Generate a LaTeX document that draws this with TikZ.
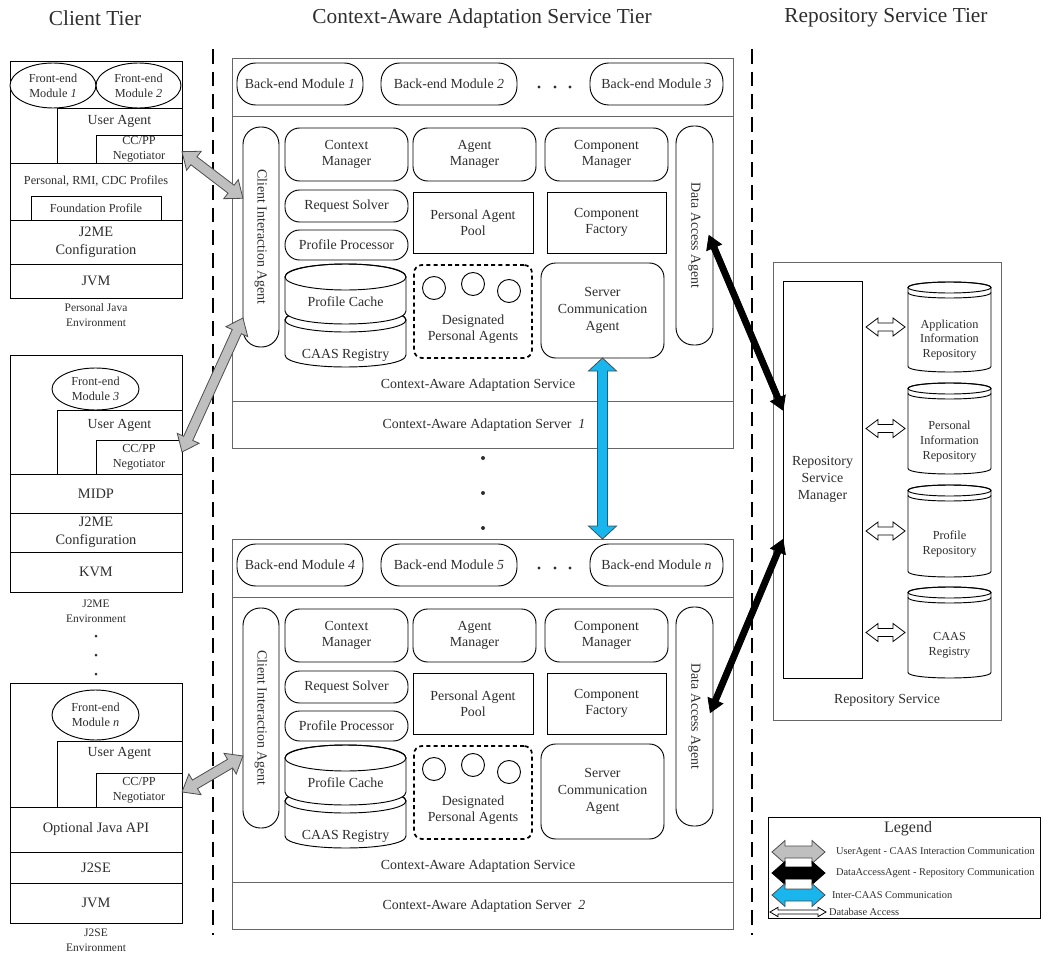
\documentclass[tikz,border=0pt]{standalone}
\usepackage{fontspec}
\setmainfont{Liberation Serif}
\usetikzlibrary{shapes.geometric,calc}
\definecolor{caasblue}{RGB}{24,182,236}
\definecolor{ink}{gray}{0.18}
\definecolor{arrowgray}{gray}{0.75}

% box from (x1,y1) to (x2,y2) in pixel units: [style]{name}{x1}{y1}{x2}{y2}{text}
\newcommand\bnode[7][]{%
  \node[tbox,#1,minimum width={(#5-#3)*0.75pt},minimum height={(#6-#4)*0.75pt}]
    (#2) at ({(#3+#5)/2},{(#4+#6)/2}) {#7};}

% double-headed block arrow: {style}{from}{to}{shaft half}{head half}{head length}
\newcommand\fatarrow[6]{%
  \draw[#1] let \p1=#2, \p2=#3, \n1={atan2(\y2-\y1,\x2-\x1)}, \n2={veclen(\x2-\x1,\y2-\y1)} in
    [shift={(\p1)}, rotate=\n1]
    (0pt,0pt) -- (#6pt,#5pt) -- (#6pt,#4pt) -- ({\n2-#6pt},#4pt) -- ({\n2-#6pt},#5pt)
    -- (\n2,0pt) -- ({\n2-#6pt},-#5pt) -- ({\n2-#6pt},-#4pt) -- (#6pt,-#4pt) -- (#6pt,-#5pt) -- cycle;}

% cylinder inside a server: {x1}{x2}{top centre}{bottom centre}{ry}
\newcommand\servcyl[5]{%
  \filldraw[fill=white] (#1,#3) -- (#1,#4) .. controls (#1,{#4+1.333*#5}) and (#2,{#4+1.333*#5}) .. (#2,#4)
    -- (#2,#3) .. controls (#2,{#3-1.333*#5}) and (#1,{#3-1.333*#5}) .. cycle;
  \draw ({(#1+#2)/2},#3) ellipse [x radius={(#2-#1)/2}, y radius=#5];}

% repository database: {name}{top}{bottom}{text}
\newcommand\dbcyl[4]{%
  \pgfmathsetmacro\cyT{#2+5.5}\pgfmathsetmacro\cyB{#3-5.5}%
  \filldraw[fill=white] (908,\cyT) -- (908,\cyB) .. controls (908,{\cyB+7.33}) and (991,{\cyB+7.33}) .. (991,\cyB)
    -- (991,\cyT) .. controls (991,{\cyT-7.33}) and (908,{\cyT-7.33}) .. cycle;
  \draw (949.5,\cyT) ellipse [x radius=41.5, y radius=5.5];
  \draw (908,{\cyT+5}) .. controls (908,{\cyT+12.33}) and (991,{\cyT+12.33}) .. (991,{\cyT+5});
  \node[inner sep=0pt,outer sep=0pt,minimum width=62.25pt,minimum height={(#3-#2)*0.75pt}]
    (#1) at (949.5,{(#2+#3)/2}) {};
  \node[ttext,fs9] (#1t) at (949.5,{(#2+#3)/2+13}) {#4};}

% one Context-Aware Adaptation Server: {prefix}{y offset}{bm a}{bm b}{bm c}{number}
\newcommand\caasserver[6]{%
\begin{scope}[shift={(0,#2)}]
  \bnode[tframe]{#1frame}{232}{58}{733}{448}{}
  \draw[black!60] (232,116) -- (733,116) (232,401) -- (733,401);
  \bnode[fs10,rounded corners=14pt]{#1bma}{237}{63}{363}{105}{Back-end Module \textit{#3}}
  \bnode[fs10,rounded corners=14pt]{#1bmb}{381}{63}{517}{105}{Back-end Module \textit{#4}}
  \fill[ink] (539,87) circle [radius=1.6] (555,87) circle [radius=1.6] (570,87) circle [radius=1.6];
  \bnode[fs10,rounded corners=14pt]{#1bmc}{590}{63}{723}{105}{Back-end Module \textit{#5}}
  \bnode[rounded corners=13pt]{#1cia}{243}{127}{279}{347}{}
  \node[ttext,fs10,rotate=-90] (#1ciat) at (#1cia) {Client Interaction Agent};
  \bnode[rounded corners=13pt]{#1daa}{676}{126}{713}{345}{}
  \node[ttext,fs10,rotate=-90] (#1daat) at (#1daa) {Data Access Agent};
  \bnode[fs10,rounded corners=11pt]{#1cm}{285}{128}{408}{181}{Context\\Manager}
  \bnode[fs10,rounded corners=11pt]{#1am}{413}{128}{536}{181}{Agent\\Manager}
  \bnode[fs10,rounded corners=11pt]{#1com}{545}{128}{668}{181}{Component\\Manager}
  \bnode[fs10,rounded corners=11pt]{#1rs}{285}{190}{408}{222}{Request Solver}
  \bnode[fs10,rounded corners=11pt]{#1pp}{285}{230}{408}{260}{Profile Processor}
  \bnode[fs10]{#1pap}{413}{192}{533}{253}{Personal Agent\\Pool}
  \bnode[fs10]{#1cf}{547}{192}{666}{253}{Component\\Factory}
  \servcyl{285}{406}{320}{355}{12}
  \servcyl{285}{406}{277}{311}{13}
  \node[ttext,fs10] (#1pc) at (345.5,302) {Profile Cache};
  \node[ttext,fs10] (#1reg) at (345.5,355) {CAAS Registry};
  \bnode[rounded corners=6pt,line width=1.3pt,dash pattern=on 3pt off 2.4pt]{#1dpa}{414}{265}{532}{358}{}
  \node[draw,circle,inner sep=0pt,minimum size=17.25pt] (#1pa1) at (434,288) {};
  \node[draw,circle,inner sep=0pt,minimum size=17.25pt] (#1pa2) at (473,284) {};
  \node[draw,circle,inner sep=0pt,minimum size=17.25pt] (#1pa3) at (509,291) {};
  \node[ttext,fs10] (#1dpat) at (473,329) {Designated\\Personal Agents};
  \bnode[fs10sca,rounded corners=11pt]{#1sca}{541}{263}{664}{358}{Server\\Communication\\Agent}
  \node[ttext,fs10] (#1svl) at (478,385) {Context-Aware Adaptation Service};
  \node[ttext,fs10] (#1srl) at (484,425) {Context-Aware Adaptation Server \ \textit{#6}};
\end{scope}}

\begin{document}
\begin{tikzpicture}[x=0.75pt,y=-0.75pt,line width=0.7pt,
  tbox/.style={draw,fill=white,inner sep=0pt,outer sep=0pt,align=center,text=ink},
  ttext/.style={inner sep=0pt,outer sep=0pt,align=center,text=ink},
  tframe/.style={draw=black!60},
  fs8/.style={font=\fontsize{7.8}{9.5}\selectfont},
  fs9/.style={font=\fontsize{9.2}{11}\selectfont},
  fscap/.style={font=\fontsize{8.6}{11.2}\selectfont},
  fs10/.style={font=\fontsize{10.4}{12.2}\selectfont},
  fs10sca/.style={font=\fontsize{10.4}{13}\selectfont},
  fs105/.style={font=\fontsize{10.8}{13.2}\selectfont},
  ttitle/.style={ttext,font=\fontsize{16}{19}\selectfont},
  tierline/.style={line width=2pt,dash pattern=on 11pt off 6pt},
  grayfat/.style={fill=arrowgray,draw=black!70,line width=0.6pt},
  blackfat/.style={fill=black,draw=black,line width=0.6pt},
  bluefat/.style={fill=caasblue,draw=black!70,line width=0.6pt},
  whitefat/.style={fill=white,draw=black,line width=0.6pt}]
\useasboundingbox (0,0) rectangle (1043,956);

% tier titles
\node[ttitle] (tclient) at (95,18) {Client Tier};
\node[ttitle] (tcaas) at (482,18) {Context-Aware Adaptation Service Tier};
\node[ttitle] (trepo) at (886,18) {Repository Service Tier};

% tier separators
\draw[tierline] (213,49) -- (213,935);
\draw[tierline] (752,49) -- (752,935);

% ---------- client 1: Personal Java ----------
\bnode{c1}{10}{61}{182}{298}{}
\node[tbox,ellipse,fs9,minimum width=64.5pt,minimum height=33.75pt] (c1fe1) at (53,85.5) {Front-end\\Module \textit{1}};
\node[tbox,ellipse,fs9,minimum width=63.75pt,minimum height=33.75pt] (c1fe2) at (138.5,85.5) {Front-end\\Module \textit{2}};
\bnode{c1ua}{57}{108}{182}{163}{}
\node[ttext,fs10] (c1ual) at (119.5,121) {User Agent};
\bnode[fs9]{c1cc}{96}{135}{182}{163}{CC/PP\\Negotiator}
\bnode{c1pr}{10}{163}{182}{220}{}
\node[ttext,fs9] (c1prl) at (96,181) {Personal, RMI, CDC Profiles};
\bnode[fs9]{c1fp}{31}{196}{161}{220}{Foundation Profile}
\bnode[fs105]{c1cf}{10}{220}{182}{264}{J2ME\\Configuration}
\bnode[fs105]{c1vm}{10}{264}{182}{298}{JVM}
\node[ttext,fscap] (c1cap) at (96,315) {Personal Java\\Environment};

% ---------- client 2: J2ME ----------
\bnode{c2}{10}{355}{182}{592}{}
\node[tbox,ellipse,fs9,minimum width=65.25pt,minimum height=31.5pt] (c2fe) at (95.5,389) {Front-end\\Module \textit{3}};
\bnode{c2ua}{57}{410}{182}{474}{}
\node[ttext,fs10] (c2ual) at (119.5,425) {User Agent};
\bnode[fs9]{c2cc}{96}{440}{182}{474}{CC/PP\\Negotiator}
\bnode[fs105]{c2mi}{10}{474}{182}{513}{MIDP}
\bnode[fs105]{c2cf}{10}{513}{182}{552}{J2ME\\Configuration}
\bnode[fs105]{c2vm}{10}{552}{182}{592}{KVM}
\node[ttext,fscap] (c2cap) at (96,611) {J2ME\\Environment};

\fill[ink] (96,636) circle [radius=1.5] (96,655) circle [radius=1.5] (96,674) circle [radius=1.5];

% ---------- client 3: J2SE ----------
\bnode{c3}{10}{683}{182}{923}{}
\node[tbox,ellipse,fs9,minimum width=65.25pt,minimum height=37.5pt] (c3fe) at (95.5,715) {Front-end\\Module \textit{n}};
\bnode{c3ua}{57}{741}{182}{807}{}
\node[ttext,fs10] (c3ual) at (119.5,753) {User Agent};
\bnode[fs9]{c3cc}{96}{773}{182}{807}{CC/PP\\Negotiator}
\bnode[fs105]{c3oj}{10}{807}{182}{852}{Optional Java API}
\bnode[fs105]{c3se}{10}{852}{182}{883}{J2SE}
\bnode[fs105]{c3vm}{10}{883}{182}{923}{JVM}
\node[ttext,fscap] (c3cap) at (96,940) {J2SE\\Environment};

% ---------- servers ----------
\caasserver{sA}{0}{1}{2}{3}{1}
\fill[ink] (483,458) circle [radius=2] (483,493) circle [radius=2] (483,528) circle [radius=2];
\caasserver{sB}{481}{4}{5}{n}{2}

% ---------- repository service ----------
\bnode[tframe]{repo}{773}{262}{1001}{720}{}
\bnode[fs10sca]{rsm}{783}{281}{862}{678}{Repository\\Service\\Manager}
\dbcyl{dbapp}{282}{372}{Application\\Information\\Repository}
\dbcyl{dbper}{383}{474}{Personal\\Information\\Repository}
\dbcyl{dbpro}{485}{577}{Profile\\Repository}
\dbcyl{dbreg}{587}{678}{CAAS\\Registry}
\node[ttext,fs10] (repol) at (887,700) {Repository Service};
\foreach \db in {dbapp,dbper,dbpro,dbreg}{
  \fatarrow{whitefat}{($(rsm.east|-\db.west)+(3pt,0)$)}{($(\db.west)+(-2.25pt,0)$)}{3}{6.75}{9}
}

% ---------- communication arrows ----------
\fatarrow{grayfat}{([yshift=-2pt]c1cc.east)}{([yshift=29pt]sAcia.west)}{3.75}{9}{11.25}
\fatarrow{grayfat}{([yshift=-60.75pt]sAcia.west)}{([yshift=3.75pt]c2cc.east)}{3.75}{9}{11.25}
\fatarrow{grayfat}{([yshift=-28.5pt]sBcia.west)}{([yshift=-1.5pt]c3cc.east)}{3.75}{9}{11.25}
\fatarrow{blackfat}{([xshift=-3pt]sAdaa.east)}{([yshift=52pt]rsm.west)}{2.25}{6}{9.75}
\fatarrow{blackfat}{([xshift=-2pt,yshift=3pt]sBdaa.east)}{([yshift=-45pt]rsm.west)}{2.25}{6}{9.75}
\fatarrow{bluefat}{(sAsca.south)}{(sAsca.south |- sBframe.north)}{3.75}{10.5}{9.75}

% ---------- legend ----------
\bnode{leg}{768}{817}{1040}{918}{}
\node[ttext,font=\fontsize{12}{14}\selectfont] (legt) at (908,829) {Legend};
\coordinate (lg1a) at (772,852); \coordinate (lg1b) at (825,852);
\coordinate (lg2a) at (772,873); \coordinate (lg2b) at (825,873);
\coordinate (lg3a) at (772,895); \coordinate (lg3b) at (825,895);
\coordinate (lg4a) at (770,912); \coordinate (lg4b) at (826,912);
\fatarrow{grayfat}{(lg1a)}{(lg1b)}{4.5}{8.6}{9.75}
\fatarrow{blackfat}{(lg2a)}{(lg2b)}{4.5}{8.6}{9.75}
\fatarrow{bluefat}{(lg3a)}{(lg3b)}{4.5}{8.6}{9.75}
\fatarrow{whitefat}{(lg4a)}{(lg4b)}{1.5}{3.5}{6}
\node[ttext,fs8,anchor=west] (lg1t) at (836,852) {UserAgent - CAAS Interaction Communication};
\node[ttext,fs8,anchor=west] (lg2t) at (836,873) {DataAccessAgent - Repository Communication};
\node[ttext,fs8,anchor=west] (lg3t) at (832,895) {Inter-CAAS Communication};
\node[ttext,fs8,anchor=west] (lg4t) at (829,912) {Database Access};
\end{tikzpicture}
\end{document}
